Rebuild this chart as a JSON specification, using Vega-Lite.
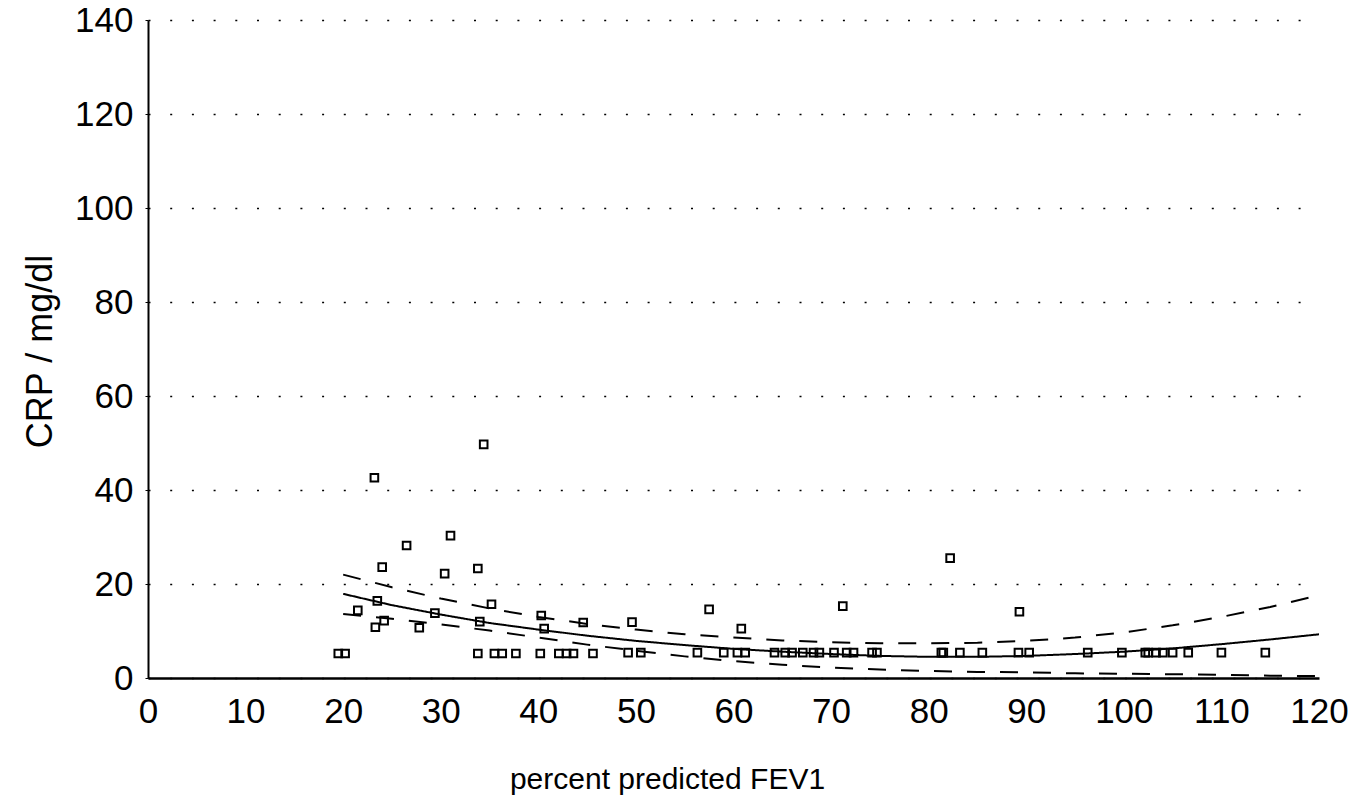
{
  "$schema": "https://vega.github.io/schema/vega-lite/v6.json",
  "width": 1171,
  "height": 658,
  "autosize": "none",
  "padding": {"left": 148, "top": 20, "right": 50, "bottom": 124},
  "background": "white",
  "config": {
    "view": {"stroke": null},
    "font": "Liberation Sans",
    "axis": {"labelFont": "Liberation Sans", "titleFont": "Liberation Sans", "labelColor": "black", "titleColor": "black", "titleFontWeight": "normal"}
  },
  "datasets": {
    "points": [
      {"fev1": 19.5, "crp": 5.2}, {"fev1": 20.2, "crp": 5.2}, {"fev1": 21.5, "crp": 14.4},
      {"fev1": 23.2, "crp": 42.6}, {"fev1": 23.5, "crp": 16.4}, {"fev1": 23.3, "crp": 10.8},
      {"fev1": 24.0, "crp": 23.6}, {"fev1": 24.2, "crp": 12.2}, {"fev1": 26.5, "crp": 28.2},
      {"fev1": 27.8, "crp": 10.7}, {"fev1": 29.4, "crp": 13.8}, {"fev1": 30.4, "crp": 22.2},
      {"fev1": 31.0, "crp": 30.3}, {"fev1": 33.8, "crp": 23.3}, {"fev1": 33.8, "crp": 5.2},
      {"fev1": 34.0, "crp": 12.0}, {"fev1": 34.4, "crp": 49.7}, {"fev1": 35.2, "crp": 15.7},
      {"fev1": 35.5, "crp": 5.2}, {"fev1": 36.3, "crp": 5.2}, {"fev1": 37.7, "crp": 5.2},
      {"fev1": 40.2, "crp": 5.2}, {"fev1": 40.3, "crp": 13.3}, {"fev1": 40.6, "crp": 10.5},
      {"fev1": 42.1, "crp": 5.2}, {"fev1": 42.9, "crp": 5.2}, {"fev1": 43.6, "crp": 5.2},
      {"fev1": 44.6, "crp": 11.8}, {"fev1": 45.6, "crp": 5.2}, {"fev1": 49.2, "crp": 5.4},
      {"fev1": 49.6, "crp": 11.9}, {"fev1": 50.5, "crp": 5.4}, {"fev1": 56.3, "crp": 5.4},
      {"fev1": 57.5, "crp": 14.6}, {"fev1": 59.0, "crp": 5.4}, {"fev1": 60.4, "crp": 5.4},
      {"fev1": 60.8, "crp": 10.5}, {"fev1": 61.2, "crp": 5.4}, {"fev1": 64.2, "crp": 5.4},
      {"fev1": 65.3, "crp": 5.4}, {"fev1": 66.0, "crp": 5.4}, {"fev1": 67.1, "crp": 5.4},
      {"fev1": 68.2, "crp": 5.4}, {"fev1": 68.8, "crp": 5.4}, {"fev1": 70.3, "crp": 5.4},
      {"fev1": 71.2, "crp": 15.3}, {"fev1": 71.6, "crp": 5.4}, {"fev1": 72.3, "crp": 5.4},
      {"fev1": 74.2, "crp": 5.4}, {"fev1": 74.7, "crp": 5.4}, {"fev1": 81.3, "crp": 5.4},
      {"fev1": 81.5, "crp": 5.4}, {"fev1": 82.2, "crp": 25.5}, {"fev1": 83.2, "crp": 5.4},
      {"fev1": 85.5, "crp": 5.4}, {"fev1": 89.2, "crp": 5.4}, {"fev1": 89.3, "crp": 14.1},
      {"fev1": 90.3, "crp": 5.4}, {"fev1": 96.3, "crp": 5.4}, {"fev1": 99.8, "crp": 5.4},
      {"fev1": 102.2, "crp": 5.4}, {"fev1": 102.5, "crp": 5.4}, {"fev1": 103.3, "crp": 5.4},
      {"fev1": 104.0, "crp": 5.4}, {"fev1": 105.0, "crp": 5.4}, {"fev1": 106.6, "crp": 5.4},
      {"fev1": 110.0, "crp": 5.4}, {"fev1": 114.5, "crp": 5.4}
    ],
    "curves": [
      {"fev1": 20, "crp": 17.9, "band": "fit"}, {"fev1": 25, "crp": 15.5, "band": "fit"},
      {"fev1": 30, "crp": 13.5, "band": "fit"}, {"fev1": 35, "crp": 11.7, "band": "fit"},
      {"fev1": 40, "crp": 10.3, "band": "fit"}, {"fev1": 45, "crp": 9.0, "band": "fit"},
      {"fev1": 50, "crp": 7.9, "band": "fit"}, {"fev1": 55, "crp": 7.0, "band": "fit"},
      {"fev1": 60, "crp": 6.2, "band": "fit"}, {"fev1": 65, "crp": 5.6, "band": "fit"},
      {"fev1": 70, "crp": 5.1, "band": "fit"}, {"fev1": 75, "crp": 4.7, "band": "fit"},
      {"fev1": 80, "crp": 4.5, "band": "fit"}, {"fev1": 85, "crp": 4.5, "band": "fit"},
      {"fev1": 90, "crp": 4.7, "band": "fit"}, {"fev1": 95, "crp": 5.1, "band": "fit"},
      {"fev1": 100, "crp": 5.6, "band": "fit"}, {"fev1": 105, "crp": 6.3, "band": "fit"},
      {"fev1": 110, "crp": 7.2, "band": "fit"}, {"fev1": 115, "crp": 8.2, "band": "fit"},
      {"fev1": 120, "crp": 9.3, "band": "fit"},
      {"fev1": 20, "crp": 22.0, "band": "upper"}, {"fev1": 25, "crp": 19.3, "band": "upper"},
      {"fev1": 30, "crp": 16.9, "band": "upper"}, {"fev1": 35, "crp": 14.8, "band": "upper"},
      {"fev1": 40, "crp": 13.0, "band": "upper"}, {"fev1": 45, "crp": 11.5, "band": "upper"},
      {"fev1": 50, "crp": 10.3, "band": "upper"}, {"fev1": 55, "crp": 9.3, "band": "upper"},
      {"fev1": 60, "crp": 8.6, "band": "upper"}, {"fev1": 65, "crp": 8.0, "band": "upper"},
      {"fev1": 70, "crp": 7.6, "band": "upper"}, {"fev1": 75, "crp": 7.4, "band": "upper"},
      {"fev1": 80, "crp": 7.4, "band": "upper"}, {"fev1": 85, "crp": 7.5, "band": "upper"},
      {"fev1": 90, "crp": 7.9, "band": "upper"}, {"fev1": 95, "crp": 8.6, "band": "upper"},
      {"fev1": 100, "crp": 9.7, "band": "upper"}, {"fev1": 105, "crp": 11.2, "band": "upper"},
      {"fev1": 110, "crp": 13.0, "band": "upper"}, {"fev1": 115, "crp": 15.1, "band": "upper"},
      {"fev1": 120, "crp": 17.6, "band": "upper"},
      {"fev1": 20, "crp": 13.6, "band": "lower"}, {"fev1": 25, "crp": 12.6, "band": "lower"},
      {"fev1": 30, "crp": 11.4, "band": "lower"}, {"fev1": 35, "crp": 10.1, "band": "lower"},
      {"fev1": 40, "crp": 8.6, "band": "lower"}, {"fev1": 45, "crp": 7.1, "band": "lower"},
      {"fev1": 50, "crp": 5.8, "band": "lower"}, {"fev1": 55, "crp": 4.6, "band": "lower"},
      {"fev1": 60, "crp": 3.6, "band": "lower"}, {"fev1": 65, "crp": 2.8, "band": "lower"},
      {"fev1": 70, "crp": 2.2, "band": "lower"}, {"fev1": 75, "crp": 1.8, "band": "lower"},
      {"fev1": 80, "crp": 1.5, "band": "lower"}, {"fev1": 85, "crp": 1.3, "band": "lower"},
      {"fev1": 90, "crp": 1.2, "band": "lower"}, {"fev1": 95, "crp": 1.0, "band": "lower"},
      {"fev1": 100, "crp": 0.9, "band": "lower"}, {"fev1": 105, "crp": 0.8, "band": "lower"},
      {"fev1": 110, "crp": 0.7, "band": "lower"}, {"fev1": 115, "crp": 0.5, "band": "lower"},
      {"fev1": 120, "crp": 0.4, "band": "lower"}
    ]
  },
  "layer": [
    {
      "data": {"name": "curves"},
      "mark": {"type": "line", "color": "black", "strokeWidth": 2, "clip": true},
      "encoding": {
        "x": {"field": "fev1", "type": "quantitative"},
        "y": {"field": "crp", "type": "quantitative"},
        "detail": {"field": "band"},
        "strokeDash": {
          "field": "band", "type": "nominal",
          "scale": {"domain": ["fit", "upper", "lower"], "range": [[1, 0], [18, 15], [18, 15]]},
          "legend": null
        }
      }
    },
    {
      "data": {"name": "points"},
      "mark": {"type": "point", "shape": "square", "filled": false, "size": 58, "stroke": "black", "strokeWidth": 2, "opacity": 1},
      "encoding": {
        "x": {
          "field": "fev1", "type": "quantitative",
          "scale": {"domain": [0, 120], "nice": false, "zero": true},
          "axis": {
            "title": "percent predicted FEV1",
            "values": [0, 10, 20, 30, 40, 50, 60, 70, 80, 90, 100, 110, 120],
            "grid": false,
            "domainColor": "black", "domainWidth": 2.4,
            "ticks": false, "tickSize": 0,
            "labelFontSize": 35, "labelPadding": 16, "labelFlush": false,
            "titleFontSize": 30, "titleX": 519, "titleY": 110, "titleBaseline": "alphabetic", "titleAlign": "center", "titleAnchor": null
          }
        },
        "y": {
          "field": "crp", "type": "quantitative",
          "scale": {"domain": [0, 140], "nice": false},
          "axis": {
            "title": "CRP / mg/dl",
            "values": [0, 20, 40, 60, 80, 100, 120, 140],
            "grid": true, "gridColor": "black", "gridWidth": 1.3, "gridDash": [2, 19.7], "gridOpacity": 1,
            "domainColor": "black", "domainWidth": 2,
            "tickColor": "black", "tickSize": 3, "tickWidth": 1,
            "labelFontSize": 35, "labelPadding": 12, "labelBaseline": "middle", "labelFlush": false,
            "titleFontSize": 36, "titleAngle": 270, "titleX": -97, "titleY": 331, "titleBaseline": "alphabetic", "titleAlign": "center"
          }
        }
      }
    }
  ]
}
